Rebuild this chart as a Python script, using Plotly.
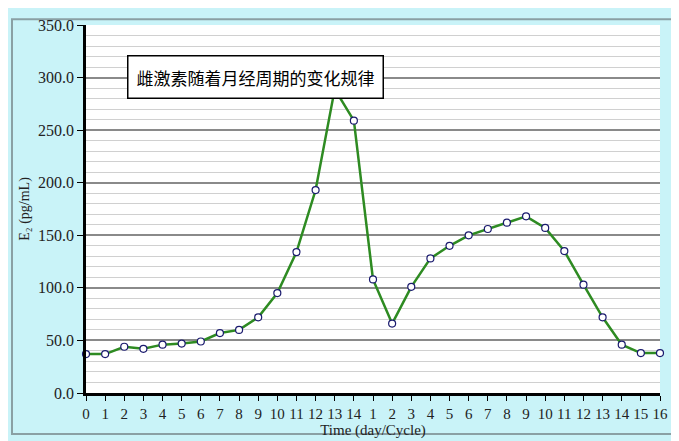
import plotly.graph_objects as go

tick_labels = [str(i) for i in range(15)] + [str(i) for i in range(1, 17)]
e2_values = [37, 37, 44, 42, 46, 47, 49, 57, 60, 72, 95, 134, 193, 289, 259,
             108, 66, 101, 128, 140, 150, 156, 162, 168, 157, 135, 103, 72, 46, 38, 38]
x_pos = list(range(len(e2_values)))

fig = go.Figure()
fig.add_trace(go.Scatter(
    x=x_pos, y=e2_values, mode="lines+markers",
    line=dict(color="#2e8b22", width=2.5),
    marker=dict(size=7, color="white", line=dict(color="#1a1a6e", width=1.2)),
    cliponaxis=False, showlegend=False))

serif = "Liberation Serif, DejaVu Serif, serif"
fig.update_layout(
    width=671, height=433,
    margin=dict(l=78, r=19, t=9, b=47),
    paper_bgcolor="#c9f3f8", plot_bgcolor="white",
    font=dict(family=serif, color="#222", size=15),
    xaxis=dict(range=[0, 30], tickvals=x_pos, ticktext=tick_labels,
               showgrid=False, ticks="outside", ticklen=5, tickcolor="black",
               showline=True, linecolor="black", linewidth=2.5, zeroline=False,
               title=dict(text="Time (day/Cycle)", standoff=0, font=dict(size=15, family=serif)),
               tickfont=dict(size=15)),
    yaxis=dict(range=[0, 350], tickvals=[0, 50, 100, 150, 200, 250, 300, 350],
               ticktext=["0.0", "50.0", "100.0", "150.0", "200.0", "250.0", "300.0", "350.0"],
               showgrid=True, gridcolor="#8a8a8a", gridwidth=1.5,
               minor=dict(dtick=10, showgrid=True, gridcolor="#d0d0d0", gridwidth=1),
               ticks="outside", ticklen=6, tickcolor="black",
               showline=True, linecolor="black", linewidth=2.5, zeroline=False,
               title=dict(text="E₂ (pg/mL)", standoff=6, font=dict(size=14, family=serif)),
               tickfont=dict(size=16)),
    shapes=[dict(type="rect", xref="paper", yref="paper",
                 x0=-74/574, x1=1+14/574, y0=-42/377, y1=1+6/377,
                 line=dict(color="#8aa0a4", width=2), layer="below")],
    annotations=[dict(x=2.15, y=301, xref="x", yref="y", xanchor="left", yanchor="middle",
                      text="雌激素随着月经周期的变化规律", showarrow=False,
                      font=dict(family="Noto Sans CJK SC", size=17, color="black"),
                      bgcolor="white", bordercolor="black", borderwidth=1.5, borderpad=8)],
)
fig.write_html("out.html")
